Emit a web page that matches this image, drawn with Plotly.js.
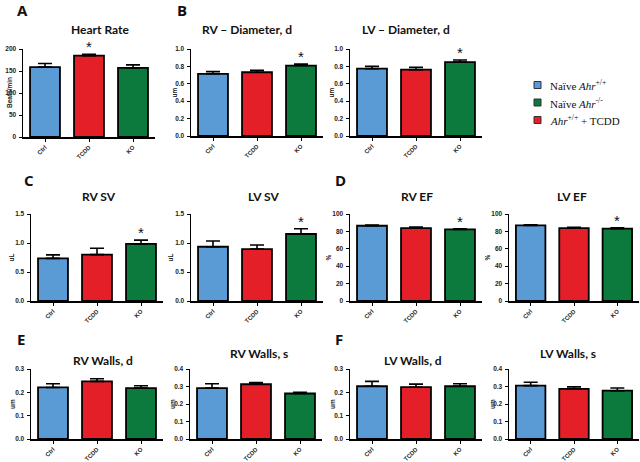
<!DOCTYPE html>
<html><head><meta charset="utf-8">
<script src="https://cdn.plot.ly/plotly-3.0.1.min.js"></script>
<style>html,body{margin:0;padding:0;background:#fff}#chart{width:640px;height:462px}</style>
</head><body><div id="chart"></div>
<script>
// ---- data ----
const categories = ['Ctrl', 'TCDD', 'KO'];
const groupColors = ['#5b9bd5', '#e51f28', '#0c7a3c'];
const legendLabels = ['Naïve <i>Ahr</i><sup>+/+</sup>', 'Naïve <i>Ahr</i><sup>-/-</sup>', '<i>Ahr</i><sup>+/+</sup> + TCDD'];
const legendColors = ['#5b9bd5', '#0c7a3c', '#e51f28'];

const heartRate = [159, 185, 157];
const heartRateErr = [8, 3, 7];
const rvDiam = [0.715, 0.733, 0.81];
const rvDiamErr = [0.025, 0.022, 0.018];
const lvDiam = [0.775, 0.763, 0.85];
const lvDiamErr = [0.026, 0.027, 0.024];
const rvSV = [0.735, 0.80, 0.985];
const rvSVErr = [0.06, 0.11, 0.065];
const lvSV = [0.935, 0.895, 1.155];
const lvSVErr = [0.10, 0.07, 0.09];
const rvEF = [86.5, 83.8, 82.3];
const rvEFErr = [0.8, 1.2, 0.8];
const lvEF = [86.9, 83.8, 83.1];
const lvEFErr = [0.8, 0.8, 1.1];
const rvWallD = [0.221, 0.247, 0.218];
const rvWallDErr = [0.016, 0.011, 0.010];
const rvWallS = [0.291, 0.313, 0.260];
const rvWallSErr = [0.025, 0.009, 0.007];
const lvWallD = [0.226, 0.222, 0.226];
const lvWallDErr = [0.021, 0.013, 0.011];
const lvWallS = [0.305, 0.287, 0.276];
const lvWallSErr = [0.019, 0.011, 0.015];

const sigHR = [false, true, false];
const sigKO = [false, false, true];
const sigNone = [false, false, false];

const ticksHR = [0, 50, 100, 150, 200];
const ticksDiam = [0, 0.2, 0.4, 0.6, 0.8, 1.0];
const ticksSV = [0, 0.5, 1.0, 1.5];
const ticksEF = [0, 20, 40, 60, 80, 100];
const ticksWall3 = [0, 0.1, 0.2, 0.3];
const ticksWall4 = [0, 0.1, 0.2, 0.3, 0.4];

// ---- layout config ----
const W = 640, H = 462;
const panels = [
  {vals: heartRate, errs: heartRateErr, sig: sigHR, title: 'Heart Rate', yt: 'Beats/min', ticks: ticksHR, dec: 0, x0: 23, x1: 155, t: 49, b: 137, tx: 100, ty: 29, ytx: 9},
  {vals: rvDiam, errs: rvDiamErr, sig: sigKO, title: 'RV – Diameter, d', yt: 'um', ticks: ticksDiam, dec: 1, x0: 191, x1: 323, t: 49, b: 136, tx: 247, ty: 29, ytx: 174},
  {vals: lvDiam, errs: lvDiamErr, sig: sigKO, title: 'LV – Diameter, d', yt: 'um', ticks: ticksDiam, dec: 1, x0: 350, x1: 482, t: 49, b: 136, tx: 406, ty: 29, ytx: 331},
  {vals: rvSV, errs: rvSVErr, sig: sigKO, title: 'RV SV', yt: 'uL', ticks: ticksSV, dec: 1, x0: 31, x1: 163, t: 214, b: 301, tx: 99, ty: 197, ytx: 11},
  {vals: lvSV, errs: lvSVErr, sig: sigKO, title: 'LV SV', yt: 'uL', ticks: ticksSV, dec: 1, x0: 191, x1: 323, t: 214, b: 301, tx: 263, ty: 196, ytx: 170},
  {vals: rvEF, errs: rvEFErr, sig: sigKO, title: 'RV EF', yt: '%', ticks: ticksEF, dec: 0, x0: 350, x1: 482, t: 214, b: 301, tx: 417, ty: 197, ytx: 328},
  {vals: lvEF, errs: lvEFErr, sig: sigKO, title: 'LV EF', yt: '%', ticks: ticksEF, dec: 0, x0: 509, x1: 639, t: 214, b: 301, tx: 572, ty: 197, ytx: 487},
  {vals: rvWallD, errs: rvWallDErr, sig: sigNone, title: 'RV Walls, d', yt: 'um', ticks: ticksWall3, dec: 1, x0: 31, x1: 163, t: 369, b: 439, tx: 103, ty: 360, ytx: 12},
  {vals: rvWallS, errs: rvWallSErr, sig: sigNone, title: 'RV Walls, s', yt: 'um', ticks: ticksWall4, dec: 1, x0: 190, x1: 322, t: 369, b: 439, tx: 259, ty: 353, ytx: 172},
  {vals: lvWallD, errs: lvWallDErr, sig: sigNone, title: 'LV Walls, d', yt: 'um', ticks: ticksWall3, dec: 1, x0: 350, x1: 482, t: 369, b: 439, tx: 413, ty: 360, ytx: 332},
  {vals: lvWallS, errs: lvWallSErr, sig: sigNone, title: 'LV Walls, s', yt: 'um', ticks: ticksWall4, dec: 1, x0: 509, x1: 639, t: 369, b: 439, tx: 568, ty: 353, ytx: 492}
];
const letters = [
  {t: 'A', x: 22, y: 10}, {t: 'B', x: 182, y: 10}, {t: 'C', x: 29, y: 180},
  {t: 'D', x: 340, y: 180}, {t: 'E', x: 21, y: 339}, {t: 'F', x: 339, y: 339}
];

const tickFont = {family: 'Liberation Sans, Arial, sans-serif', size: 6.5, color: '#222', weight: 'bold'};
const titleFont = {family: 'Lato, sans-serif', size: 12, color: '#111', weight: 'bold'};

const data = [];
const layout = {
  width: W, height: H,
  margin: {l: 0, r: 0, t: 0, b: 0},
  paper_bgcolor: '#fff', plot_bgcolor: 'rgba(0,0,0,0)',
  showlegend: false, barmode: 'overlay',
  annotations: [], shapes: []
};

panels.forEach((p, i) => {
  const n = i + 1;
  const xa = 'x' + (n === 1 ? '' : n), ya = 'y' + (n === 1 ? '' : n);
  const xk = 'xaxis' + (n === 1 ? '' : n), yk = 'yaxis' + (n === 1 ? '' : n);
  data.push({
    type: 'bar', x: categories, y: p.vals, xaxis: xa, yaxis: ya, width: 0.68,
    marker: {color: groupColors, line: {color: '#000', width: 1.8}},
    error_y: {type: 'data', symmetric: false, array: p.errs, arrayminus: p.errs.map(() => 0),
              color: '#000', thickness: 1.6, width: 7},
    hoverinfo: 'skip'
  });
  layout[xk] = {
    domain: [p.x0 / W, p.x1 / W], anchor: ya, type: 'category',
    range: [-0.5, 2.5], showline: true, linecolor: '#000', linewidth: 1.5,
    ticks: 'outside', ticklen: 3, tickwidth: 1, tickcolor: '#000',
    tickangle: -45, ticklabelstandoff: 0,
    tickfont: {family: 'Liberation Sans, Arial, sans-serif', size: 6, color: '#222', weight: 'bold'},
    showgrid: false, zeroline: false, fixedrange: true
  };
  const top = p.ticks[p.ticks.length - 1];
  layout[yk] = {
    domain: [1 - p.b / H, 1 - p.t / H], anchor: xa,
    range: [0, top], showline: true, linecolor: '#000', linewidth: 1.5,
    ticks: 'outside', ticklen: 3, tickwidth: 1, tickcolor: '#000',
    tickvals: p.ticks, ticktext: p.ticks.map(v => v.toFixed(p.dec)),
    tickfont: tickFont, ticklabelstandoff: 1,
    showgrid: false, zeroline: false, fixedrange: true
  };
  layout.annotations.push({
    xref: 'paper', yref: 'paper', x: p.tx / W, y: 1 - p.ty / H, xanchor: 'center', yanchor: 'middle',
    text: p.title, showarrow: false, font: titleFont
  });
  layout.annotations.push({
    xref: 'paper', yref: 'paper', x: p.ytx / W, y: 1 - ((p.t + p.b) / 2) / H, xanchor: 'center', yanchor: 'middle',
    text: p.yt, textangle: -90, showarrow: false, font: {family: 'Liberation Sans, Arial, sans-serif', size: 6.5, color: '#222', weight: 'bold'}
  });
  p.sig.forEach((s, j) => {
    if (!s) return;
    layout.annotations.push({
      xref: xa, yref: ya, x: categories[j], y: p.vals[j] + p.errs[j], yanchor: 'bottom', yshift: -3,
      text: '*', showarrow: false, font: {family: 'Liberation Sans, Arial, sans-serif', size: 15, color: '#111'}
    });
  });
});

letters.forEach(l => {
  layout.annotations.push({
    xref: 'paper', yref: 'paper', x: l.x / W, y: 1 - l.y / H, xanchor: 'center', yanchor: 'middle',
    text: l.t, showarrow: false, font: {family: 'Open Sans, sans-serif', size: 15, color: '#111', weight: 'bold'}
  });
});

// legend (drawn manually)
legendLabels.forEach((lab, k) => {
  const cy = 85 + k * 17.5;
  layout.shapes.push({
    type: 'rect', xref: 'paper', yref: 'paper',
    x0: 534 / W, x1: 541 / W, y0: 1 - (cy - 3.5) / H, y1: 1 - (cy + 3.5) / H,
    fillcolor: legendColors[k], line: {color: '#333', width: 1}
  });
  layout.annotations.push({
    xref: 'paper', yref: 'paper', x: 548 / W, y: 1 - cy / H, xanchor: 'left', yanchor: 'middle',
    text: lab, showarrow: false, font: {family: 'Liberation Serif, Times New Roman, serif', size: 11, color: '#111'}
  });
});

Plotly.newPlot('chart', data, layout, {staticPlot: true, displayModeBar: false});
</script>
</body></html>
